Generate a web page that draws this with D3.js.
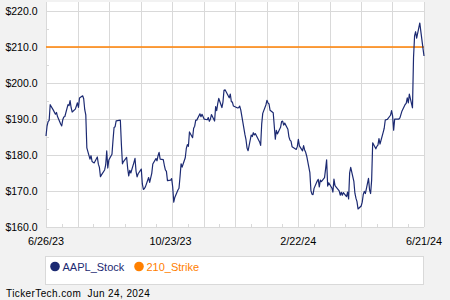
<!DOCTYPE html>
<html>
<head>
<meta charset="utf-8">
<script src="https://cdn.jsdelivr.net/npm/d3@7"></script>
<style>
  html, body { margin: 0; padding: 0; background: #f2f2f2; }
  svg { display: block; font-family: "Liberation Sans", Arial, sans-serif; }
</style>
</head>
<body>
<svg id="chart" width="450" height="300"></svg>
<script>
// trading days, grouped by month: [year, month, days...]
var tradingMonths = [
     [2023, 6, 26, 27, 28, 29, 30],
     [2023, 7, 3, 5, 6, 7, 10, 11, 12, 13, 14, 17, 18, 19, 20, 21, 24, 25, 26, 27, 28, 31],
     [2023, 8, 1, 2, 3, 4, 7, 8, 9, 10, 11, 14, 15, 16, 17, 18, 21, 22, 23, 24, 25, 28, 29, 30, 31],
     [2023, 9, 1, 5, 6, 7, 8, 11, 12, 13, 14, 15, 18, 19, 20, 21, 22, 25, 26, 27, 28, 29],
     [2023, 10, 2, 3, 4, 5, 6, 9, 10, 11, 12, 13, 16, 17, 18, 19, 20, 23, 24, 25, 26, 27, 30, 31],
     [2023, 11, 1, 2, 3, 6, 7, 8, 9, 10, 13, 14, 15, 16, 17, 20, 21, 22, 24, 27, 28, 29, 30],
     [2023, 12, 1, 4, 5, 6, 7, 8, 11, 12, 13, 14, 15, 18, 19, 20, 21, 22, 26, 27, 28, 29],
     [2024, 1, 2, 3, 4, 5, 8, 9, 10, 11, 12, 16, 17, 18, 19, 22, 23, 24, 25, 26, 29, 30, 31],
     [2024, 2, 1, 2, 5, 6, 7, 8, 9, 12, 13, 14, 15, 16, 20, 21, 22, 23, 26, 27, 28, 29],
     [2024, 3, 1, 4, 5, 6, 7, 8, 11, 12, 13, 14, 15, 18, 19, 20, 21, 22, 25, 26, 27, 28],
     [2024, 4, 1, 2, 3, 4, 5, 8, 9, 10, 11, 12, 15, 16, 17, 18, 19, 22, 23, 24, 25, 26, 29, 30],
     [2024, 5, 1, 2, 3, 6, 7, 8, 9, 10, 13, 14, 15, 16, 17, 20, 21, 22, 23, 24, 28, 29, 30, 31],
     [2024, 6, 3, 4, 5, 6, 7, 10, 11, 12, 13, 14, 17, 18, 20, 21]
];

var aaplStock = [
     185.27, 188.06, 189.25, 189.59, 193.97,
     192.46, 191.33, 191.81, 190.68, 188.61, 188.08, 189.77, 190.54, 190.69, 193.99, 193.73, 195.10, 193.13, 191.94, 192.75, 193.62, 194.50, 193.22, 195.83, 196.45,
     195.61, 192.58, 191.17, 181.99, 178.85, 179.80, 178.19, 177.97, 177.79, 179.46, 177.45, 176.57, 174.00, 174.49, 175.84, 177.23, 181.12, 176.38, 178.61, 180.19, 184.12, 187.65, 187.87,
     189.46, 189.70, 182.91, 177.56, 178.18, 179.36, 176.30, 174.21, 175.74, 175.01, 177.97, 179.07, 175.49, 173.93, 174.79, 176.08, 171.96, 170.43, 170.69, 171.21,
     173.75, 172.40, 173.66, 174.91, 177.49, 178.99, 178.39, 179.80, 180.71, 178.85, 178.72, 177.15, 175.84, 175.46, 172.88, 173.00, 173.44, 171.10, 166.89, 168.22, 170.29, 170.77,
     173.97, 177.57, 176.65, 179.23, 181.82, 182.89, 182.41, 186.40, 184.80, 187.44, 188.01, 189.71, 189.69, 191.45, 190.64, 191.31, 189.97, 189.79, 190.40, 189.37, 189.95,
     191.24, 189.43, 193.42, 192.32, 194.27, 195.71, 193.18, 194.71, 197.96, 198.11, 197.57, 195.89, 196.94, 194.83, 194.68, 193.60, 193.05, 193.15, 193.58, 192.53,
     185.64, 184.25, 181.91, 181.18, 185.56, 185.14, 186.19, 185.59, 185.92, 183.63, 182.68, 188.63, 191.56, 193.89, 195.18, 194.50, 194.17, 192.42, 191.73, 188.04, 184.40,
     186.86, 185.85, 187.68, 189.30, 189.41, 188.32, 188.85, 187.15, 185.04, 184.15, 183.86, 182.31, 181.56, 182.32, 184.37, 182.52, 181.16, 182.63, 181.42, 180.75,
     179.66, 175.10, 170.12, 169.12, 169.00, 170.73, 172.75, 173.23, 171.13, 173.00, 172.62, 173.72, 176.08, 178.67, 171.37, 172.28, 170.85, 169.71, 173.31, 171.48,
     170.03, 168.84, 169.65, 168.82, 169.58, 168.45, 169.67, 167.78, 175.04, 176.55, 172.69, 169.38, 168.00, 167.04, 165.00, 165.84, 166.90, 169.02, 169.89, 169.30, 173.50, 170.33,
     169.30, 173.03, 183.38, 181.71, 182.40, 182.74, 184.57, 183.05, 186.28, 187.43, 189.72, 189.84, 189.87, 191.04, 192.35, 190.90, 186.88, 189.98, 189.99, 190.29, 191.29, 192.25,
     194.03, 194.35, 195.87, 194.48, 196.89, 193.12, 207.15, 213.07, 214.24, 212.49, 216.67, 214.29, 209.68, 207.49
];

var strike = 210;
var yTicks = [160, 170, 180, 190, 200, 210, 220];
var xTickLabels = ['6/26/23', '10/23/23', '2/22/24', '6/21/24'];
var seriesNames = ['AAPL_Stock', '210_Strike'];
var seriesColors = ['#1c2a72', '#ff8000'];

var dates = [];
tradingMonths.forEach(m => {
     m.slice(2).forEach(d => dates.push(new Date(m[0], m[1] - 1, d)));
});
var data = dates.map((d, i) => ({ date: d, value: aaplStock[i] }));

var svg = d3.select('#chart');
var plot_left = 46, plot_right = 424, plot_top = 2, plot_bottom = 227;

var x_scale = d3.scaleTime()
     .domain([dates[0], dates[dates.length - 1]])
     .range([plot_left, plot_right]);
var y_scale = d3.scaleLinear()
     .domain([160, 222.5])
     .range([plot_bottom, plot_top]);

// plot background
svg.append('rect')
     .attr('x', plot_left).attr('y', plot_top)
     .attr('width', plot_right - plot_left).attr('height', plot_bottom - plot_top)
     .attr('fill', '#fff');

var grid = svg.append('g').attr('stroke', '#d9d9d9').attr('stroke-width', 1);

// vertical grid: 12 equal steps of the time domain
var t0 = +dates[0], t1 = +dates[dates.length - 1];
d3.range(13).forEach(i => {
     var xv = Math.round(x_scale(new Date(t0 + (t1 - t0) * i / 12))) + 0.5;
     grid.append('line').attr('x1', xv).attr('x2', xv).attr('y1', plot_top).attr('y2', plot_bottom);
});
d3.range(12).forEach(i => {
     var xv = Math.round(x_scale(new Date(t0 + (t1 - t0) * (i + 0.5) / 12))) + 0.5;
     grid.append('line').attr('x1', xv).attr('x2', xv).attr('y1', plot_bottom - 3).attr('y2', plot_bottom);
});

yTicks.forEach(v => {
     var yv = Math.round(y_scale(v)) + 0.5;
     grid.append('line').attr('x1', plot_left).attr('x2', plot_right).attr('y1', yv).attr('y2', yv);
});
yTicks.slice(0, -1).forEach(v => {
     var yv = Math.round(y_scale(v + 5)) + 0.5;
     grid.append('line').attr('x1', plot_left).attr('x2', plot_left + 3).attr('y1', yv).attr('y2', yv);
});

// y labels
svg.append('g').selectAll('text')
     .data(yTicks)
     .enter()
     .append('text')
     .attr('x', 37.5)
     .attr('y', d => y_scale(d) + 4)
     .attr('text-anchor', 'end')
     .style('font-size', '10.5px')
     .attr('fill', '#000')
     .text(d => '$' + d.toFixed(1));

// x labels
var parse = d3.timeParse('%m/%d/%y');
svg.append('g').selectAll('text')
     .data(xTickLabels)
     .enter()
     .append('text')
     .attr('x', d => x_scale(parse(d)))
     .attr('y', 245)
     .attr('text-anchor', 'middle')
     .style('font-size', '10.8px')
     .attr('fill', '#000')
     .text(d => d);

// strike line
svg.append('line')
     .attr('x1', plot_left).attr('x2', plot_right)
     .attr('y1', y_scale(strike)).attr('y2', y_scale(strike))
     .attr('stroke', seriesColors[1])
     .attr('stroke-width', 1.6);

// stock line
var line = d3.line()
     .x(d => x_scale(d.date))
     .y(d => y_scale(d.value));
svg.append('path')
     .datum(data)
     .attr('d', line)
     .attr('fill', 'none')
     .attr('stroke', seriesColors[0])
     .attr('stroke-width', 1.2)
     .attr('stroke-linejoin', 'round');

// legend
svg.append('rect')
     .attr('x', 45.5).attr('y', 256.5)
     .attr('width', 378).attr('height', 28)
     .attr('fill', '#fff')
     .attr('stroke', '#d9d9d9');

var legendX = [55, 139];
seriesNames.forEach((name, i) => {
     svg.append('circle')
          .attr('cx', legendX[i]).attr('cy', 266.5)
          .attr('r', 4.8)
          .attr('fill', seriesColors[i]);
     svg.append('text')
          .attr('x', legendX[i] + 7.5).attr('y', 270.5)
          .style('font-size', '11px')
          .attr('fill', seriesColors[i])
          .text(name);
});

svg.append('text')
     .attr('x', 6).attr('y', 297)
     .style('font-size', '10px')
     .style('letter-spacing', '0.4px')
     .attr('fill', '#000')
     .attr('xml:space', 'preserve')
     .text('TickerTech.com  Jun 24, 2024');
</script>
</body>
</html>
